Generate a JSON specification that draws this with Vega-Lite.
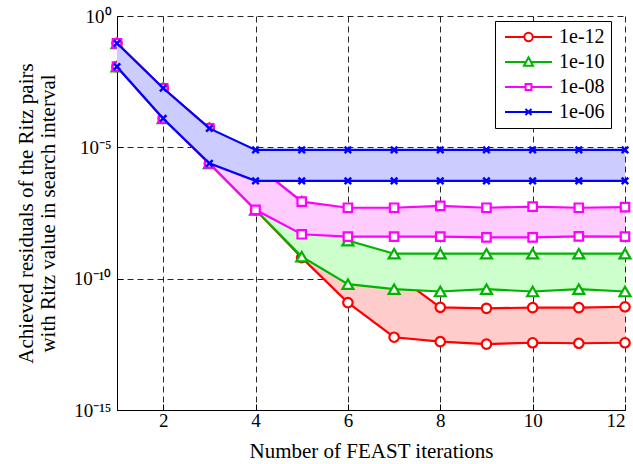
{
  "$schema": "https://vega.github.io/schema/vega-lite/v6.json",
  "width": 508,
  "height": 394,
  "autosize": "none",
  "padding": {"left": 117, "top": 16, "right": 8, "bottom": 54},
  "config": {
    "font": "Liberation Serif",
    "view": {"stroke": null},
    "style": {"guide-label": {"font": "Liberation Serif"}, "guide-title": {"font": "Liberation Serif"}},
    "legend": {"labelFont": "Times New Roman, Liberation Serif, serif", "labelFontSize": 20, "labelColor": "#000", "labelFontWeight": "normal"},
    "axis": {
      "zindex": 1,
      "domainColor": "#000",
      "domainWidth": 1,
      "tickColor": "#000",
      "tickSize": -6,
      "tickWidth": 1,
      "labelFont": "Liberation Serif",
      "labelFontSize": 19,
      "labelColor": "#000",
      "labelPadding": 12,
      "titleFont": "Liberation Serif",
      "titleFontSize": 21,
      "titleFontWeight": "normal",
      "titleColor": "#000",
      "grid": true,
      "gridColor": "#000",
      "gridOpacity": 0.85,
      "gridDash": [6, 4],
      "gridWidth": 1
    }
  },
  "data": {
    "values": [
      {"s": "1e-12", "it": 1, "hi": 0.0912, "lo": 0.01175},
      {"s": "1e-12", "it": 2, "hi": 0.00178, "lo": 0.000126},
      {"s": "1e-12", "it": 3, "hi": 5.25e-5, "lo": 2.45e-6},
      {"s": "1e-12", "it": 4, "hi": 2.14e-6, "lo": 4.17e-8},
      {"s": "1e-12", "it": 5, "hi": 5.01e-8, "lo": 6.31e-10},
      {"s": "1e-12", "it": 6, "hi": 1.26e-10, "lo": 1.23e-11},
      {"s": "1e-12", "it": 7, "hi": 1.58e-10, "lo": 5.89e-13},
      {"s": "1e-12", "it": 8, "hi": 8.13e-12, "lo": 3.98e-13},
      {"s": "1e-12", "it": 9, "hi": 7.41e-12, "lo": 3.24e-13},
      {"s": "1e-12", "it": 10, "hi": 7.94e-12, "lo": 3.63e-13},
      {"s": "1e-12", "it": 11, "hi": 7.94e-12, "lo": 3.47e-13},
      {"s": "1e-12", "it": 12, "hi": 8.51e-12, "lo": 3.63e-13},
      {"s": "1e-10", "it": 1, "hi": 0.0912, "lo": 0.01175},
      {"s": "1e-10", "it": 2, "hi": 0.00178, "lo": 0.000126},
      {"s": "1e-10", "it": 3, "hi": 5.25e-5, "lo": 2.45e-6},
      {"s": "1e-10", "it": 4, "hi": 2.14e-6, "lo": 4.17e-8},
      {"s": "1e-10", "it": 5, "hi": 8.51e-8, "lo": 6.92e-10},
      {"s": "1e-10", "it": 6, "hi": 2.82e-9, "lo": 6.17e-11},
      {"s": "1e-10", "it": 7, "hi": 8.91e-10, "lo": 3.98e-11},
      {"s": "1e-10", "it": 8, "hi": 8.91e-10, "lo": 3.24e-11},
      {"s": "1e-10", "it": 9, "hi": 8.91e-10, "lo": 3.98e-11},
      {"s": "1e-10", "it": 10, "hi": 8.91e-10, "lo": 3.24e-11},
      {"s": "1e-10", "it": 11, "hi": 8.91e-10, "lo": 3.98e-11},
      {"s": "1e-10", "it": 12, "hi": 8.91e-10, "lo": 3.24e-11},
      {"s": "1e-08", "it": 1, "hi": 0.0912, "lo": 0.01175},
      {"s": "1e-08", "it": 2, "hi": 0.00178, "lo": 0.000126},
      {"s": "1e-08", "it": 3, "hi": 5.25e-5, "lo": 2.45e-6},
      {"s": "1e-08", "it": 4, "hi": 2.14e-6, "lo": 4.17e-8},
      {"s": "1e-08", "it": 5, "hi": 8.51e-8, "lo": 4.9e-9},
      {"s": "1e-08", "it": 6, "hi": 5.01e-8, "lo": 3.98e-9},
      {"s": "1e-08", "it": 7, "hi": 5.01e-8, "lo": 3.98e-9},
      {"s": "1e-08", "it": 8, "hi": 5.89e-8, "lo": 3.98e-9},
      {"s": "1e-08", "it": 9, "hi": 5.01e-8, "lo": 3.72e-9},
      {"s": "1e-08", "it": 10, "hi": 5.5e-8, "lo": 3.72e-9},
      {"s": "1e-08", "it": 11, "hi": 5.01e-8, "lo": 4.07e-9},
      {"s": "1e-08", "it": 12, "hi": 5.25e-8, "lo": 3.98e-9},
      {"s": "1e-06", "it": 1, "hi": 0.0912, "lo": 0.01175},
      {"s": "1e-06", "it": 2, "hi": 0.00178, "lo": 0.000126},
      {"s": "1e-06", "it": 3, "hi": 5.25e-5, "lo": 2.45e-6},
      {"s": "1e-06", "it": 4, "hi": 7.94e-6, "lo": 5.3e-7},
      {"s": "1e-06", "it": 5, "hi": 7.94e-6, "lo": 5.3e-7},
      {"s": "1e-06", "it": 6, "hi": 7.94e-6, "lo": 5.3e-7},
      {"s": "1e-06", "it": 7, "hi": 7.94e-6, "lo": 5.3e-7},
      {"s": "1e-06", "it": 8, "hi": 7.94e-6, "lo": 5.3e-7},
      {"s": "1e-06", "it": 9, "hi": 7.94e-6, "lo": 5.3e-7},
      {"s": "1e-06", "it": 10, "hi": 7.94e-6, "lo": 5.3e-7},
      {"s": "1e-06", "it": 11, "hi": 7.94e-6, "lo": 5.3e-7},
      {"s": "1e-06", "it": 12, "hi": 7.94e-6, "lo": 5.3e-7}
    ]
  },
  "encoding": {
    "x": {
      "field": "it",
      "type": "quantitative",
      "scale": {"domain": [1, 12], "nice": false, "zero": false},
      "axis": {"values": [2, 4, 6, 8, 10, 12], "title": "Number of FEAST iterations", "titlePadding": 10, "labelPadding": 7}
    },
    "y": {
      "field": "hi",
      "type": "quantitative",
      "scale": {"type": "log", "domain": [1e-15, 1], "nice": false},
      "axis": {
        "values": [1e-15, 1e-10, 1e-5, 1],
        "labelExpr": "datum.value > 0.5 ? '10⁰' : datum.value > 1e-6 ? '10⁻⁵' : datum.value > 1e-11 ? '10⁻¹⁰' : '10⁻¹⁵'",
        "title": ["Achieved residuals of the Ritz pairs", "with Ritz value in search interval"],
        "titlePadding": 15,
        "titleLineHeight": 22
      }
    }
  },
  "layer": [
    {
      "transform": [{"filter": "datum.s === '1e-12'"}],
      "layer": [
        {"mark": {"type": "area", "color": "#ffcccc", "opacity": 1}, "encoding": {"y2": {"field": "lo"}}},
        {"mark": {"type": "line", "color": "#ff0000", "strokeWidth": 2.2}},
        {"mark": {"type": "line", "color": "#ff0000", "strokeWidth": 2.2}, "encoding": {"y": {"field": "lo", "type": "quantitative"}}},
        {"mark": {"type": "point", "shape": "circle", "size": 90, "filled": false, "fill": "#fff", "fillOpacity": 1, "stroke": "#ff0000", "strokeWidth": 2.2, "opacity": 1}},
        {"mark": {"type": "point", "shape": "circle", "size": 90, "filled": false, "fill": "#fff", "fillOpacity": 1, "stroke": "#ff0000", "strokeWidth": 2.2, "opacity": 1}, "encoding": {"y": {"field": "lo", "type": "quantitative"}}}
      ]
    },
    {
      "transform": [{"filter": "datum.s === '1e-10'"}],
      "layer": [
        {"mark": {"type": "area", "color": "#ccffcc", "opacity": 1}, "encoding": {"y2": {"field": "lo"}}},
        {"mark": {"type": "line", "color": "#00b400", "strokeWidth": 2.2}},
        {"mark": {"type": "line", "color": "#00b400", "strokeWidth": 2.2}, "encoding": {"y": {"field": "lo", "type": "quantitative"}}},
        {"mark": {"type": "point", "shape": "triangle-up", "size": 120, "filled": false, "fill": "#fff", "fillOpacity": 1, "stroke": "#00b400", "strokeWidth": 2.2, "opacity": 1}},
        {"mark": {"type": "point", "shape": "triangle-up", "size": 120, "filled": false, "fill": "#fff", "fillOpacity": 1, "stroke": "#00b400", "strokeWidth": 2.2, "opacity": 1}, "encoding": {"y": {"field": "lo", "type": "quantitative"}}}
      ]
    },
    {
      "transform": [{"filter": "datum.s === '1e-08'"}],
      "layer": [
        {"mark": {"type": "area", "color": "#ffccff", "opacity": 1}, "encoding": {"y2": {"field": "lo"}}},
        {"mark": {"type": "line", "color": "#ff00ff", "strokeWidth": 2.2}},
        {"mark": {"type": "line", "color": "#ff00ff", "strokeWidth": 2.2}, "encoding": {"y": {"field": "lo", "type": "quantitative"}}},
        {"mark": {"type": "point", "shape": "square", "size": 72, "filled": false, "fill": "#fff", "fillOpacity": 1, "stroke": "#ff00ff", "strokeWidth": 2.2, "opacity": 1}},
        {"mark": {"type": "point", "shape": "square", "size": 72, "filled": false, "fill": "#fff", "fillOpacity": 1, "stroke": "#ff00ff", "strokeWidth": 2.2, "opacity": 1}, "encoding": {"y": {"field": "lo", "type": "quantitative"}}}
      ]
    },
    {
      "transform": [{"filter": "datum.s === '1e-06'"}],
      "layer": [
        {"mark": {"type": "area", "color": "#ccccff", "opacity": 1}, "encoding": {"y2": {"field": "lo"}}},
        {"mark": {"type": "line", "color": "#0000ff", "strokeWidth": 2.2}},
        {"mark": {"type": "line", "color": "#0000ff", "strokeWidth": 2.2}, "encoding": {"y": {"field": "lo", "type": "quantitative"}}},
        {"mark": {"type": "point", "shape": "M-1,-1L1,1M-1,1L1,-1", "size": 42, "filled": false, "stroke": "#0000ff", "strokeWidth": 2.5, "opacity": 1}},
        {"mark": {"type": "point", "shape": "M-1,-1L1,1M-1,1L1,-1", "size": 42, "filled": false, "stroke": "#0000ff", "strokeWidth": 2.5, "opacity": 1}, "encoding": {"y": {"field": "lo", "type": "quantitative"}}}
      ]
    },
    {
      "mark": {"type": "point", "filled": false, "opacity": 0, "size": 144},
      "encoding": {
        "color": {
          "field": "s",
          "type": "nominal",
          "scale": {"domain": ["1e-12", "1e-10", "1e-08", "1e-06"], "range": ["#ff0000", "#00b400", "#ff00ff", "#0000ff"]},
          "legend": {
            "title": null,
            "orient": "none",
            "legendX": 378,
            "legendY": 5,
            "zindex": 2,
            "padding": 6,
            "fillColor": "#fff",
            "strokeColor": "#000",
            "cornerRadius": 0,
            "rowPadding": 5,
            "labelFont": "Times New Roman, Liberation Serif, serif",
            "labelFontSize": 20,
            "labelColor": "#000",
            "labelOffset": 38,
            "symbolSize": 144,
            "symbolStrokeWidth": 2,
            "symbolOpacity": 1,
            "symbolFillColor": "#fff"
          }
        },
        "shape": {
          "field": "s",
          "type": "nominal",
          "scale": {
            "domain": ["1e-12", "1e-10", "1e-08", "1e-06"],
            "range": [
              "M-1,0L2.217,0M3.617,0L6.833,0M3.617,0A0.7,0.7,0,1,1,2.217,0A0.7,0.7,0,1,1,3.617,0Z",
              "M-1,0L2.5,0M3.33,0L6.833,0M2.167,0.63L2.917,-0.78L3.667,0.63Z",
              "M-1,0L2.433,0M3.4,0L6.833,0M2.433,-0.483L3.4,-0.483L3.4,0.483L2.433,0.483Z",
              "M-1,0L6.833,0M2.417,-0.5L3.417,0.5M2.417,0.5L3.417,-0.5"
            ]
          },
          "legend": null
        }
      }
    }
  ]
}
